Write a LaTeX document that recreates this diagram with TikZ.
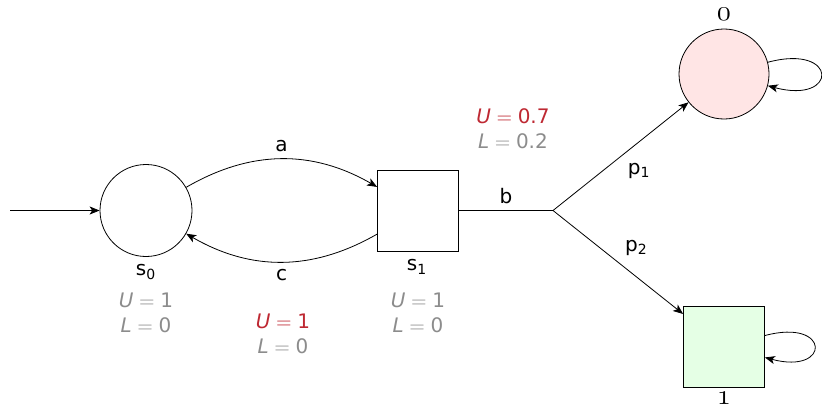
\documentclass[tikz,border=0pt]{standalone}
\usepackage{fontspec}
\setmainfont{DejaVu Sans}
\usetikzlibrary{arrows.meta}
\definecolor{upred}{RGB}{190,40,50}
\definecolor{lowgray}{RGB}{140,140,140}
\newcommand{\eqs}{${}={}$}

\begin{document}
\begin{tikzpicture}[x=0.5pt,y=0.5pt,
  >={Stealth[length=5pt,width=4pt,inset=1.3pt]},
  rstate/.style={draw,circle,inner sep=0pt,minimum size=46pt},
  bstate/.style={draw,rectangle,inner sep=0pt,minimum size=40.5pt},
  bounds/.style={align=center,font=\fontsize{10}{12.5}\selectfont}]
  % Estados, punto de bifurcación y cotas U/L
  \useasboundingbox (0,0) rectangle (822,408);
  \coordinate (init) at (10,197.5);
  \node[rstate] (s0) at (146,197.5) {};
  \node[bstate] (s1) at (418,197.5) {};
  \coordinate (br) at (553,197.5);
  \node[rstate,fill=red!10,minimum size=45pt] (o) at (724,334) {};
  \node[bstate,fill=green!10] (t1) at (724,61.5) {};
  \draw[->] (init) -- (s0);
  \draw[->] (s0) to[bend left=30] node[above] {a} (s1);
  \draw[->] (s1) to[bend left=30] node[below] {c} (s0);
  \draw (s1) -- node[above] {b} (br);
  \draw[->] (br) -- node[below right] {p\textsubscript{1}} (o);
  \draw[->] (br) -- node[above right] {p\textsubscript{2}} (t1);
  \draw[->] (o) to[loop right] (o);
  \draw[->] (t1) to[loop right] (t1);
  \node (s0lbl) at (146,136) {s\textsubscript{0}};
  \node (s1lbl) at (417,141) {s\textsubscript{1}};
  \node[font=\Large] (olbl) at (724,394) {$\mathnormal{0}$};
  \node[font=\Large] (t1lbl) at (724,10) {$\mathnormal{1}$};
  \node[bounds] (s0b) at (146,95) {\textcolor{lowgray}{\textit{U}\eqs 1}\\\textcolor{lowgray}{\textit{L}\eqs 0}};
  \node[bounds] (s1b) at (418,95) {\textcolor{lowgray}{\textit{U}\eqs 1}\\\textcolor{lowgray}{\textit{L}\eqs 0}};
  \node[bounds] (cb) at (283,74.5) {\textcolor{upred}{\textit{U}\eqs 1}\\\textcolor{lowgray}{\textit{L}\eqs 0}};
  \node[bounds] (brb) at (513,279) {\textcolor{upred}{\textit{U}\eqs 0.7}\\\textcolor{lowgray}{\textit{L}\eqs 0.2}};
\end{tikzpicture}
\end{document}
